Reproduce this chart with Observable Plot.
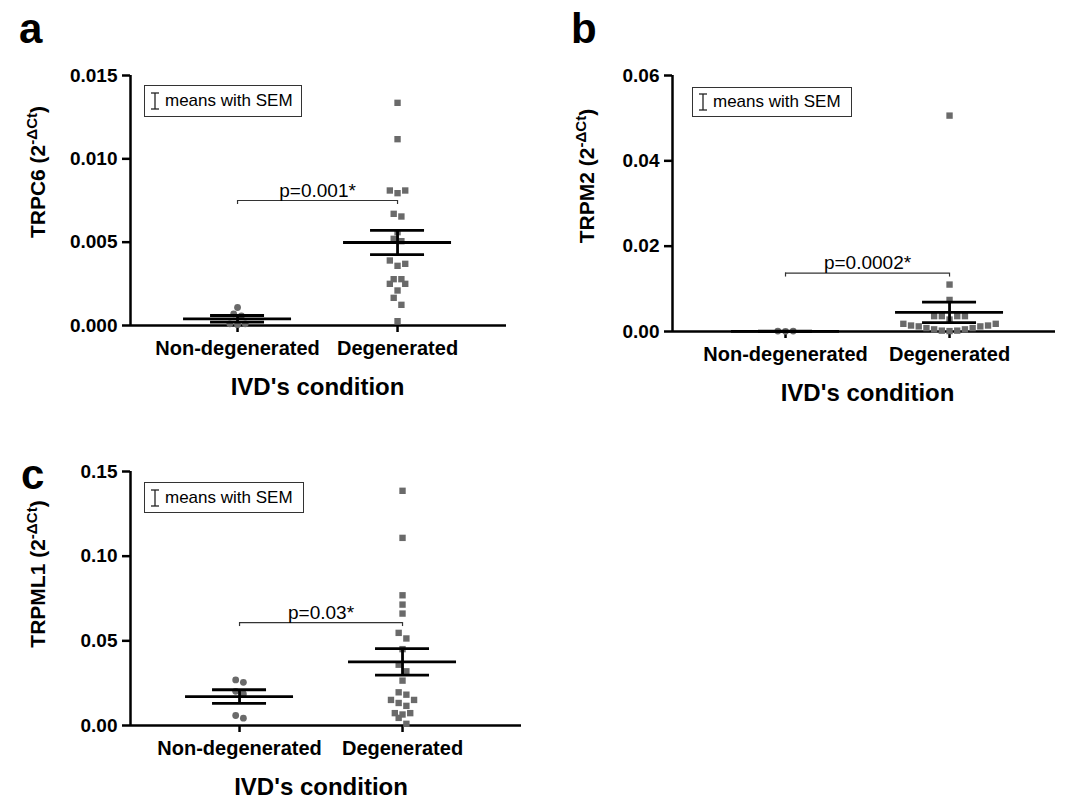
<!DOCTYPE html>
<html><head><meta charset="utf-8">
<script src="https://cdn.jsdelivr.net/npm/d3@7"></script>
<script src="https://cdn.jsdelivr.net/npm/@observablehq/plot@0.6"></script>
<style>
body{margin:0;background:#fff;}
#root{position:relative;width:1068px;height:801px;overflow:hidden;font-family:"Liberation Sans",Arial,sans-serif;color:#000;}
.panel{position:absolute;}
.letter{position:absolute;font-weight:bold;font-size:42px;line-height:1;}
.ytitle{position:absolute;font-weight:bold;font-size:21px;white-space:nowrap;transform:translate(-50%,-50%) rotate(-90deg);}
.ytitle sup{font-size:0.72em;}
.legend{position:absolute;border:1px solid #333;box-sizing:border-box;display:flex;align-items:center;font-size:17px;padding-left:5px;background:#fff;}
.legend svg{margin-right:5px;}
</style></head>
<body><div id="root"></div>
<script>
// ---------- data ----------
const categories = ["Non-degenerated", "Degenerated"];
const axisTitle = "IVD's condition";
const legendText = "means with SEM";

const genes = ["TRPC6", "TRPM2", "TRPML1"];
const panelLetters = ["a", "b", "c"];

const trpc6Non = [0.00108, 0.0007, 0.00058, 0.0001, 0.00005, 0.0001];
const trpc6Deg = [0.01336, 0.01118, 0.0081, 0.00794, 0.0081, 0.0067, 0.00654, 0.0056, 0.0052, 0.00506, 0.0039, 0.00358, 0.0037, 0.00278, 0.00278, 0.0025, 0.0025, 0.0021, 0.00166, 0.00124, 0.00026];
const trpc6Mean = [0.0004, 0.00498];
const trpc6Sem = [0.0002, 0.00073];
const trpc6Ticks = [0, 0.005, 0.010, 0.015];

const trpm2Non = [0.0001, 0.00005, 0.0001];
const trpm2Deg = [0.0506, 0.011, 0.0074, 0.0036, 0.0036, 0.0036, 0.0036, 0.0028, 0.0018, 0.0014, 0.0012, 0.0008, 0.0005, 0.0002, 0.0001, 0.0002, 0.0005, 0.0008, 0.0012, 0.0014, 0.0018];
const trpm2Mean = [0.00005, 0.0045];
const trpm2Sem = [0.00003, 0.0024];
const trpm2Ticks = [0, 0.02, 0.04, 0.06];

const trpml1Non = [0.0269, 0.0255, 0.0202, 0.0186, 0.0059, 0.0043];
const trpml1Deg = [0.1386, 0.1108, 0.0769, 0.0714, 0.0661, 0.0547, 0.0514, 0.0451, 0.0359, 0.032, 0.0265, 0.0196, 0.0182, 0.0151, 0.0151, 0.0133, 0.0116, 0.0073, 0.0073, 0.0065, 0.0045, 0.001];
const trpml1Mean = [0.0171, 0.0376];
const trpml1Sem = [0.004, 0.0078];
const trpml1Ticks = [0, 0.05, 0.10, 0.15];

const pLabels = ["p=0.001*", "p=0.0002*", "p=0.03*"];
const bracketY = [0.0075, 0.0137, 0.0608];
const tickFormats = [".3f", ".2f", ".2f"];

// ---------- layout helpers ----------
const FONT = '"Liberation Sans", Arial, sans-serif';
const DOT = "#6a6a6a";

function swarm(values, cat, pxX, pxY) {
  const slot = 7.7 / pxX, thr = 8 / pxY;
  const sorted = values.map(v => v).sort((a, b) => a - b);
  const rows = [];
  for (const v of sorted) {
    const row = rows[rows.length - 1];
    if (row && v - row[0] < thr) row.push(v); else rows.push([v]);
  }
  const out = [];
  for (const row of rows) {
    const n = row.length;
    const offs = d3.range(n).map(k => k - (n - 1) / 2)
      .sort((a, b) => Math.abs(a) - Math.abs(b) || b - a);
    row.forEach((v, k) => out.push({x: cat + offs[k] * slot, y: v}));
  }
  return out;
}

function makePanel(cfg) {
  const {non, deg, mean, sem, yMax, ticks, fmt, pY, pLabel, w, h, mL, mR, mT, mB, xDom} = cfg;
  const pxX = (w - mL - mR) / (xDom[1] - xDom[0]);
  const pxY = (h - mT - mB) / yMax;
  const ptsNon = swarm(non, 0, pxX, pxY);
  const ptsDeg = swarm(deg, 1, pxX, pxY);
  const stats = mean.map((m, i) => ({i, m, lo: m - sem[i], hi: m + sem[i]}));
  const mh = 54 / pxX, sh = 27 / pxX, drop = 4 / pxY;
  return Plot.plot({
    width: w, height: h,
    marginLeft: mL, marginRight: mR, marginTop: mT, marginBottom: mB,
    style: {fontFamily: FONT, fontWeight: "bold", color: "#000", background: "transparent", overflow: "visible"},
    x: {domain: xDom, axis: null},
    y: {domain: [0, yMax], axis: null},
    marks: [
      Plot.axisY({ticks, tickFormat: d3.format(fmt), tickSize: 8, tickPadding: 5, fontSize: 19, fontWeight: "bold", strokeWidth: 2.5, label: null}),
      Plot.axisX({ticks: [0, 1], tickFormat: i => categories[i], tickSize: 7, tickPadding: 8, fontSize: 20, fontWeight: "bold", strokeWidth: 2.5, label: null}),
      Plot.ruleY([0], {strokeWidth: 2.5}),
      Plot.ruleX([xDom[0]], {strokeWidth: 2.5}),
      Plot.dot(ptsNon, {x: "x", y: "y", r: 3.4, fill: DOT, symbol: "circle"}),
      Plot.dot(ptsDeg, {x: "x", y: "y", r: 3.6, fill: DOT, symbol: "square"}),
      Plot.ruleY(stats, {y: "m", x1: d => d.i - mh, x2: d => d.i + mh, strokeWidth: 2.8}),
      Plot.ruleY(stats, {y: "hi", x1: d => d.i - sh, x2: d => d.i + sh, strokeWidth: 2.8}),
      Plot.ruleY(stats, {y: "lo", x1: d => d.i - sh, x2: d => d.i + sh, strokeWidth: 2.8}),
      Plot.ruleX(stats, {x: "i", y1: "lo", y2: "hi", strokeWidth: 2.8}),
      Plot.ruleY([pY], {x1: 0, x2: 1, stroke: "#333", strokeWidth: 1.2}),
      Plot.ruleX([0, 1], {x: d => d, y1: pY, y2: pY - drop, stroke: "#333", strokeWidth: 1.2}),
      Plot.text([pLabel], {x: 0.5, y: pY, text: d => d, dy: -4, lineAnchor: "bottom", fontSize: 19, fontWeight: "normal"}),
      Plot.text([axisTitle], {x: 0.5, y: 0, text: d => d, dy: 62, fontSize: 24, fontWeight: "bold"})
    ]
  });
}

const root = document.getElementById("root");
function place(el, left, top) {
  const d = document.createElement("div");
  d.className = "panel"; d.style.left = left + "px"; d.style.top = top + "px";
  d.appendChild(el); root.appendChild(d);
}
function addLetter(t, left, top) {
  const d = document.createElement("div");
  d.className = "letter"; d.textContent = t; d.style.left = left + "px"; d.style.top = top + "px";
  root.appendChild(d);
}
function addYTitle(gene, cx, cy) {
  const d = document.createElement("div");
  d.className = "ytitle"; d.style.left = cx + "px"; d.style.top = cy + "px";
  d.innerHTML = gene + " (2<sup>-\u0394Ct</sup>)";
  root.appendChild(d);
}
function addLegend(left, top, w, h) {
  const d = document.createElement("div");
  d.className = "legend";
  Object.assign(d.style, {left: left + "px", top: top + "px", width: w + "px", height: h + "px"});
  d.innerHTML = '<svg width="10" height="20"><g stroke="#222" stroke-width="1.3"><line x1="5" y1="2" x2="5" y2="18"/><line x1="1" y1="2" x2="9" y2="2"/><line x1="1" y1="18" x2="9" y2="18"/></g></svg><span></span>';
  d.querySelector("span").textContent = legendText;
  root.appendChild(d);
}

// Panel a
place(makePanel({non: trpc6Non, deg: trpc6Deg, mean: trpc6Mean, sem: trpc6Sem, yMax: 0.015, ticks: trpc6Ticks, fmt: tickFormats[0],
  pY: bracketY[0], pLabel: pLabels[0], w: 540, h: 410, mL: 130, mR: 34, mT: 75, mB: 85, xDom: [-0.669, 1.681]}), 0, 0);
// Panel b
place(makePanel({non: trpm2Non, deg: trpm2Deg, mean: trpm2Mean, sem: trpm2Sem, yMax: 0.06, ticks: trpm2Ticks, fmt: tickFormats[1],
  pY: bracketY[1], pLabel: pLabels[1], w: 528, h: 416, mL: 132, mR: 13, mT: 75, mB: 85, xDom: [-0.689, 1.646]}), 540, 0);
// Panel c
place(makePanel({non: trpml1Non, deg: trpml1Deg, mean: trpml1Mean, sem: trpml1Sem, yMax: 0.15, ticks: trpml1Ticks, fmt: tickFormats[2],
  pY: bracketY[2], pLabel: pLabels[2], w: 540, h: 401, mL: 130, mR: 19, mT: 71, mB: 76, xDom: [-0.669, 1.73]}), 0, 400);

addLetter(panelLetters[0], 19, 8);
addLetter(panelLetters[1], 571, 8);
addLetter(panelLetters[2], 21, 454);
addYTitle(genes[0], 36, 172);
addYTitle(genes[1], 585, 176);
addYTitle(genes[2], 36, 574);
addLegend(144, 85, 158, 32);
addLegend(692, 87, 160, 30);
addLegend(144, 482, 160, 31);
</script>
</body></html>
